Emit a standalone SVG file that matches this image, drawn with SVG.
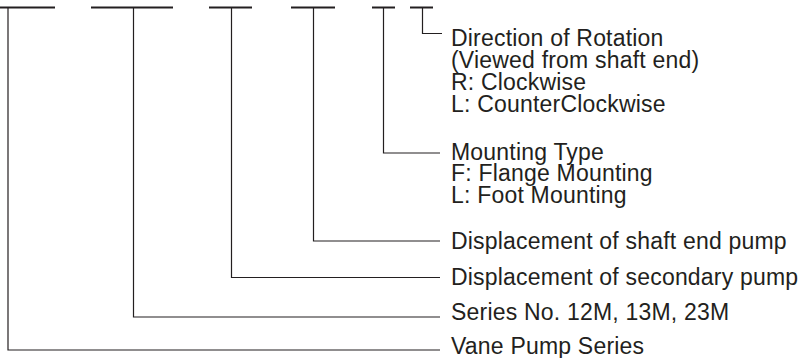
<svg xmlns="http://www.w3.org/2000/svg" width="804" height="358" viewBox="0 0 804 358">
<style>
.bar{stroke:#231f20;stroke-width:2;fill:none}
.con{stroke:#231f20;stroke-width:1.2;fill:none}
text{font-family:"Liberation Sans",Arial,sans-serif;font-size:23px;fill:#231f20;letter-spacing:0.2px}
</style>
<rect width="804" height="358" fill="#fff"/>
<g id="code-bars">
<line class="bar" x1="0" y1="7.5" x2="55" y2="7.5"/>
<line class="bar" x1="91" y1="7.5" x2="173" y2="7.5"/>
<line class="bar" x1="209" y1="7.5" x2="252" y2="7.5"/>
<line class="bar" x1="291" y1="7.5" x2="335" y2="7.5"/>
<line class="bar" x1="372" y1="7.5" x2="395" y2="7.5"/>
<line class="bar" x1="410" y1="7.5" x2="433" y2="7.5"/>
</g>
<g id="connectors">
<polyline class="con" points="8,8 8,350 440,350"/>
<polyline class="con" points="133.5,8 133.5,317 440,317"/>
<polyline class="con" points="231.5,8 231.5,277.5 440,277.5"/>
<polyline class="con" points="313.5,8 313.5,241 440,241"/>
<polyline class="con" points="383.5,8 383.5,153 440,153"/>
<polyline class="con" points="422.5,8 422.5,33.5 442,33.5"/>
</g>
<g id="rotation">
<text x="451" y="46">Direction of Rotation</text>
<text x="451" y="68">(Viewed from shaft end)</text>
<text x="451" y="90">R: Clockwise</text>
<text x="451" y="112">L: CounterClockwise</text>
</g>
<g id="mounting">
<text x="451" y="159.5">Mounting Type</text>
<text x="451" y="181">F: Flange Mounting</text>
<text x="451" y="202.5">L: Foot Mounting</text>
</g>
<g id="shaft-end"><text x="451" y="249">Displacement of shaft end pump</text></g>
<g id="secondary"><text x="451" y="285">Displacement of secondary pump</text></g>
<g id="series"><text x="451" y="320">Series No. 12M, 13M, 23M</text></g>
<g id="vane"><text x="451" y="354">Vane Pump Series</text></g>
</svg>
